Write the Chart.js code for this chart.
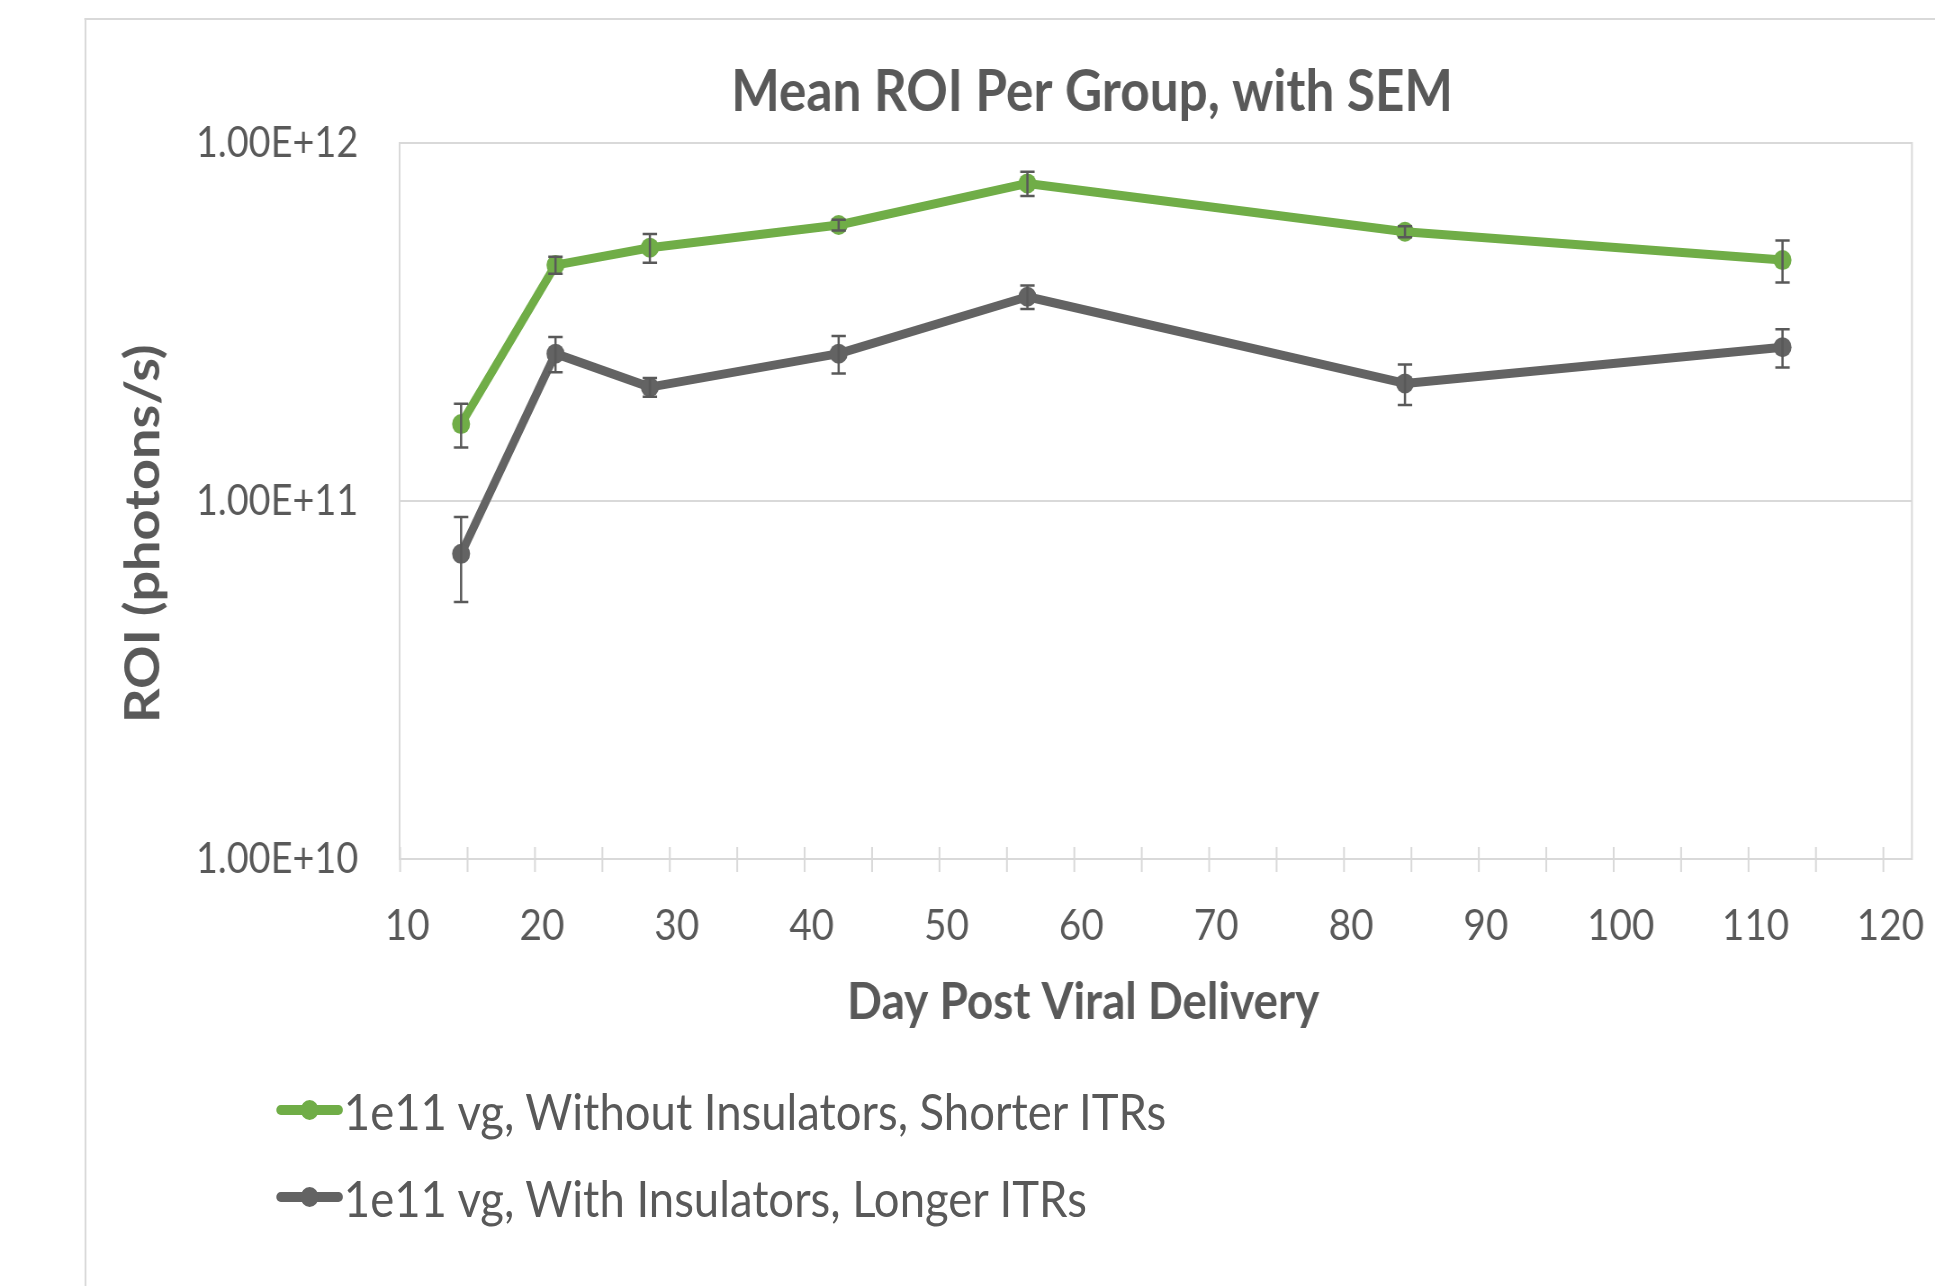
<!DOCTYPE html>
<html>
<head>
<meta charset="utf-8">
<script src="https://cdn.jsdelivr.net/npm/chart.js@4.4.1/dist/chart.umd.min.js"></script>
<style>
    html, body { margin: 0; padding: 0; background: #fff; overflow: hidden; }
    #wrap { position: absolute; left: 0; top: 0; width: 2427px; height: 1286px; transform: scaleX(0.9); transform-origin: 0 0; }
    #frame { position: absolute; left: 94px; top: 18px; width: 3000px; height: 2000px; border-left: 2px solid #d9d9d9; border-top: 2px solid #d9d9d9; }
    #roiChart { position: absolute; left: 0; top: 0; }
    #legend { position: absolute; left: 307px; top: 1080px; font-family: Lato, sans-serif; font-size: 50.5px; color: #595959; }
    .legend-row { display: flex; align-items: center; height: 60px; margin-bottom: 27px; white-space: nowrap; }
    .legend-sample { position: relative; width: 74px; height: 20px; margin-right: 1px; }
    .legend-line { position: absolute; left: 0; right: 0; top: 5px; height: 10px; border-radius: 5px; }
    .legend-dot { position: absolute; left: 27px; top: 0; width: 20px; height: 20px; border-radius: 50%; }
</style>
</head>
<body>
<div id="wrap">
    <div id="frame"></div>
    <canvas id="roiChart" width="2427" height="1059"></canvas>
    <div id="legend"></div>
</div>
<script>
const days = [14, 21, 28, 42, 56, 84, 112];

const withoutInsulatorsMean = [1.64e11, 4.56e11, 5.10e11, 5.90e11, 7.71e11, 5.65e11, 4.71e11];
const withoutInsulatorsSem = [0.23e11, 0.25e11, 0.47e11, 0.2e11, 0.60e11, 0.2e11, 0.63e11];

const withInsulatorsMean = [7.12e10, 2.58e11, 2.08e11, 2.58e11, 3.72e11, 2.13e11, 2.69e11];
const withInsulatorsSem = [1.9e10, 0.29e11, 0.125e11, 0.31e11, 0.28e11, 0.275e11, 0.33e11];

const seriesLabels = ['1e11 vg, Without Insulators, Shorter ITRs', '1e11 vg, With Insulators, Longer ITRs'];
const seriesColors = ['#70AD47', '#636363'];

const yTickValues = [1e10, 1e11, 1e12];

const textColor = '#595959';
const gridColor = '#d9d9d9';

document.addEventListener("DOMContentLoaded", function () {

    function toPoints(mean) {
        return days.map((d, i) => ({ x: d, y: mean[i] }));
    }

    // SEM whiskers, placed through the y scale
    const errorBars = {
        id: 'errorBars',
        afterDatasetsDraw(chart) {
            const ctx = chart.ctx;
            const yScale = chart.scales.y;
            const sems = [withoutInsulatorsSem, withInsulatorsSem];
            ctx.save();
            ctx.strokeStyle = '#595959';
            ctx.lineWidth = 2.5;
            chart.data.datasets.forEach((ds, i) => {
                const meta = chart.getDatasetMeta(i);
                meta.data.forEach((pt, j) => {
                    const v = ds.data[j].y;
                    const top = yScale.getPixelForValue(v + sems[i][j]);
                    const bottom = yScale.getPixelForValue(v - sems[i][j]);
                    ctx.beginPath();
                    ctx.moveTo(pt.x, top);
                    ctx.lineTo(pt.x, bottom);
                    ctx.moveTo(pt.x - 8, top);
                    ctx.lineTo(pt.x + 8, top);
                    ctx.moveTo(pt.x - 8, bottom);
                    ctx.lineTo(pt.x + 8, bottom);
                    ctx.stroke();
                });
            });
            ctx.restore();
        }
    };

    // plot area border and the x tick marks (Excel draws them crossing the axis, a few px left of the label)
    const plotFrame = {
        id: 'plotFrame',
        beforeDatasetsDraw(chart) {
            const { ctx, chartArea } = chart;
            const xScale = chart.scales.x;
            ctx.save();
            ctx.strokeStyle = gridColor;
            ctx.lineWidth = 2;
            ctx.strokeRect(chartArea.left, chartArea.top, chartArea.right - chartArea.left, chartArea.bottom - chartArea.top);
            ctx.beginPath();
            xScale.ticks.forEach((t, i) => {
                const px = xScale.getPixelForTick(i) - 7.8;
                ctx.moveTo(px, chartArea.bottom - 12);
                ctx.lineTo(px, chartArea.bottom + 13);
            });
            ctx.stroke();
            ctx.restore();
        }
    };

    function buildLegend(chart) {
        const legend = document.getElementById('legend');
        legend.innerHTML = '';
        chart.data.datasets.forEach(ds => {
            const row = document.createElement('div');
            row.className = 'legend-row';
            row.innerHTML = `
                <span class="legend-sample">
                    <span class="legend-line" style="background:${ds.borderColor}"></span>
                    <span class="legend-dot" style="background:${ds.borderColor}"></span>
                </span>
                <span>${ds.label}</span>`;
            legend.appendChild(row);
        });
    }

    function drawChart() {
        Chart.defaults.font.family = 'Lato, sans-serif';
        Chart.defaults.color = textColor;

        const ctx = document.getElementById('roiChart').getContext('2d');
        const chart = new Chart(ctx, {
            type: 'line',
            data: {
                datasets: [
                    {
                        label: seriesLabels[0],
                        data: toPoints(withoutInsulatorsMean),
                        borderColor: seriesColors[0],
                        backgroundColor: seriesColors[0],
                        borderWidth: 9,
                        pointRadius: 10,
                        pointBorderWidth: 0,
                        borderJoinStyle: 'round',
                        borderCapStyle: 'round'
                    },
                    {
                        label: seriesLabels[1],
                        data: toPoints(withInsulatorsMean),
                        borderColor: seriesColors[1],
                        backgroundColor: seriesColors[1],
                        borderWidth: 9,
                        pointRadius: 10,
                        pointBorderWidth: 0,
                        borderJoinStyle: 'round',
                        borderCapStyle: 'round'
                    }
                ]
            },
            options: {
                responsive: false,
                animation: false,
                layout: { padding: 0 },
                plugins: {
                    legend: { display: false },
                    tooltip: { enabled: false },
                    title: {
                        display: true,
                        text: 'Mean ROI Per Group, with SEM',
                        color: textColor,
                        font: { size: 57, weight: 'bold' },
                        padding: { top: 58.3, bottom: 16.3 }
                    }
                },
                scales: {
                    x: {
                        type: 'linear',
                        min: 9.44,
                        max: 121.6,
                        afterFit: function (scale) { scale.height = 200; },
                        ticks: {
                            stepSize: 5,
                            includeBounds: false,
                            autoSkip: false,
                            maxRotation: 0,
                            padding: 41,
                            color: textColor,
                            font: { size: 43 },
                            callback: function (value) { return value % 10 === 0 ? value : ''; }
                        },
                        grid: { display: false, drawTicks: false },
                        border: { display: true, color: gridColor, width: 2 },
                        title: {
                            display: true,
                            text: 'Day Post Viral Delivery' + ' '.repeat(13),
                            color: textColor,
                            font: { size: 51, weight: 'bold' },
                            padding: { top: 0, bottom: 26 }
                        }
                    },
                    y: {
                        type: 'logarithmic',
                        min: 1e10,
                        max: 1e12,
                        afterFit: function (scale) { scale.width = 444; },
                        afterBuildTicks: function (axis) {
                            axis.ticks = yTickValues.map(v => ({ value: v }));
                        },
                        ticks: {
                            padding: 46,
                            color: textColor,
                            font: { size: 42 },
                            callback: function (value) { return Number(value).toExponential(2).toUpperCase(); }
                        },
                        grid: {
                            drawTicks: false,
                            color: gridColor,
                            lineWidth: 2
                        },
                        border: { display: true, color: gridColor, width: 2 },
                        title: {
                            display: true,
                            text: 'ROI (photons/s)' + ' '.repeat(5),
                            color: textColor,
                            font: { size: 54, weight: 'bold' },
                            padding: { top: 127, bottom: 0 }
                        }
                    },
                    // empty right-hand margin of the chart, keeps the title centred on the whole chart
                    rightMargin: {
                        type: 'linear',
                        position: 'right',
                        afterFit: function (scale) { scale.width = 302.6; },
                        ticks: { display: false },
                        grid: { display: false },
                        border: { display: false }
                    }
                }
            },
            plugins: [plotFrame, errorBars]
        });

        buildLegend(chart);
    }

    document.fonts.load('bold 56px Lato').then(drawChart, drawChart);
});
</script>
</body>
</html>
